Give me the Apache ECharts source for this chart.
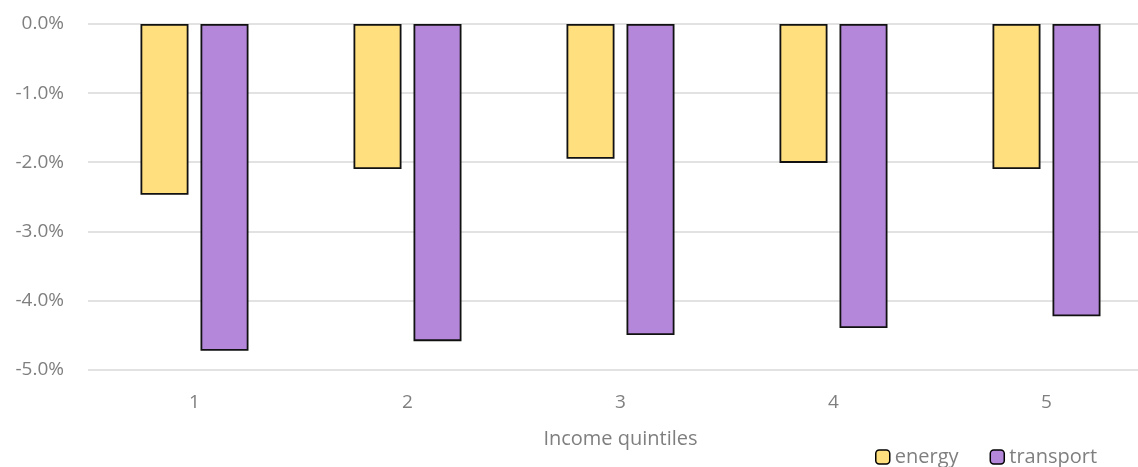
<!DOCTYPE html>
<html><head><meta charset="utf-8">
<script src="https://cdn.jsdelivr.net/npm/echarts@6/dist/echarts.min.js"></script>
<style>html,body{margin:0;padding:0;background:#fff;overflow:hidden;width:1138px;height:467px}#c{width:1160px;height:467px}</style>
</head><body><div id="c"></div>
<script>
const categories = ['1','2','3','4','5'];
const energy = [-2.47, -2.10, -1.95, -2.01, -2.10];
const transport = [-4.73, -4.59, -4.50, -4.40, -4.23];
const yTicks = [0, -1, -2, -3, -4, -5];

const chart = echarts.init(document.getElementById('c'));
const font = '"Open Sans", "Liberation Sans", sans-serif';
chart.setOption({
  animation: false,
  grid: { left: 88, top: 24, right: 7, height: 345.5, containLabel: false },
  legend: {
    left: 875, top: 447, padding: 0, itemWidth: 14, itemHeight: 14, itemGap: 31,
    textStyle: { color: '#7f7f7f', fontSize: 20, fontFamily: font, lineHeight: 20 },
    itemStyle: { borderColor: '#000', borderWidth: 1.5 },
    data: ['energy','transport']
  },
  xAxis: {
    type: 'category', data: categories, position: 'bottom',
    name: 'Income quintiles', nameLocation: 'middle', nameGap: 60,
    nameTextStyle: { color: '#7f7f7f', fontSize: 20, fontFamily: font },
    axisLine: { show: false }, axisTick: { show: false },
    axisLabel: { color: '#7f7f7f', fontSize: 19, fontFamily: font, margin: 24 }
  },
  yAxis: {
    type: 'value', min: -5, max: 0, interval: 1,
    axisLine: { show: false }, axisTick: { show: false },
    splitLine: { lineStyle: { color: '#d9d9d9', width: 1.5 } },
    axisLabel: { color: '#7f7f7f', fontSize: 19, fontFamily: font, margin: 24,
      formatter: v => v.toFixed(1) + '%' }
  },
  series: [
    { name: 'energy', type: 'bar', data: energy, barWidth: 48, barGap: '25%',
      itemStyle: { color: '#FFDF7E', borderColor: '#111', borderWidth: 1.8 } },
    { name: 'transport', type: 'bar', data: transport, barWidth: 48,
      itemStyle: { color: '#B487DA', borderColor: '#111', borderWidth: 1.8 } }
  ]
});
</script></body></html>
